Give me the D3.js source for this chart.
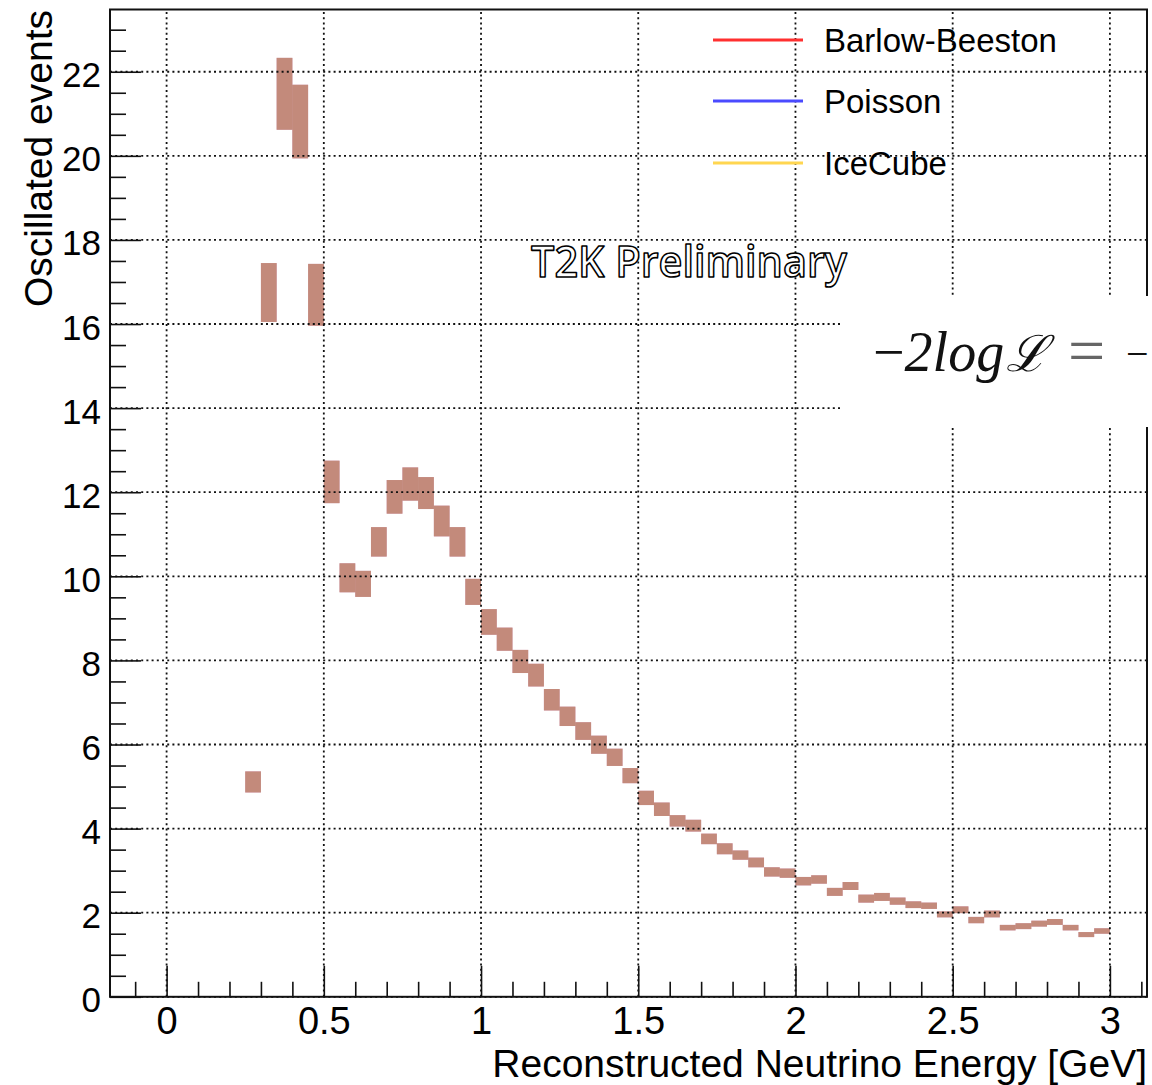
<!DOCTYPE html>
<html>
<head>
<meta charset="utf-8">
<script src="https://cdn.jsdelivr.net/npm/d3@7"></script>
<style>
  html, body { margin: 0; padding: 0; background: #fff; }
  svg { display: block; }
</style>
</head>
<body>
<script>
// Lower edge of each reconstructed-energy bin (GeV); every bin is 0.05 GeV wide
const binLow = [0.25, 0.30, 0.35, 0.40, 0.45, 0.50, 0.55, 0.60, 0.65, 0.70,
                0.75, 0.80, 0.85, 0.90, 0.95, 1.00, 1.05, 1.10, 1.15, 1.20,
                1.25, 1.30, 1.35, 1.40, 1.45, 1.50, 1.55, 1.60, 1.65, 1.70,
                1.75, 1.80, 1.85, 1.90, 1.95, 2.00, 2.05, 2.10, 2.15, 2.20,
                2.25, 2.30, 2.35, 2.40, 2.45, 2.50, 2.55, 2.60, 2.65, 2.70,
                2.75, 2.80, 2.85, 2.90, 2.95];
const binWidth = 0.05;

// Lower and upper edge of the oscillated-event band in each bin
const bandLower = [4.86, 16.05, 20.62, 19.94, 15.96, 11.74, 9.62, 9.51, 10.47, 11.49,
                   11.80, 11.60, 10.95, 10.47, 9.32, 8.61, 8.23, 7.70, 7.38, 6.81,
                   6.44, 6.11, 5.78, 5.49, 5.08, 4.56, 4.30, 4.05, 3.93, 3.63,
                   3.39, 3.26, 3.08, 2.86, 2.83, 2.65, 2.69, 2.40, 2.54, 2.24,
                   2.28, 2.19, 2.11, 2.09, 1.89, 1.99, 1.75, 1.89, 1.58, 1.61,
                   1.67, 1.71, 1.58, 1.42, 1.50];
const bandUpper = [5.36, 17.45, 22.33, 21.69, 17.43, 12.75, 10.31, 10.13, 11.17, 12.29,
                   12.59, 12.36, 11.68, 11.17, 9.94, 9.22, 8.78, 8.25, 7.92, 7.32,
                   6.90, 6.53, 6.21, 5.90, 5.44, 4.90, 4.62, 4.32, 4.21, 3.88,
                   3.65, 3.48, 3.31, 3.08, 3.05, 2.85, 2.89, 2.59, 2.73, 2.43,
                   2.47, 2.36, 2.27, 2.24, 2.03, 2.15, 1.90, 2.05, 1.71, 1.75,
                   1.81, 1.85, 1.71, 1.54, 1.63];

// Likelihood treatments overlaid on the same bins
const seriesNames = ["Barlow-Beeston", "Poisson", "IceCube"];
const seriesColors = ["#ff0000", "#0000ff", "#ffcc00"];
const legendColors = ["#ff3030", "#4a4aff", "#ffd650"];

// Axis tick values and labels
const xMajorTicks = [0, 0.5, 1, 1.5, 2, 2.5, 3];
const xTickLabels = ["0", "0.5", "1", "1.5", "2", "2.5", "3"];
const yMajorTicks = [0, 2, 4, 6, 8, 10, 12, 14, 16, 18, 20, 22];
const yTickLabels = ["0", "2", "4", "6", "8", "10", "12", "14", "16", "18", "20", "22"];

const W = 1152, H = 1085;
const svg = d3.select("body").append("svg")
  .attr("width", W).attr("height", H)
  .attr("font-family", "'Liberation Sans', Arial, sans-serif");

const frame = { left: 110, right: 1147, top: 9.5, bottom: 996.8 };
const x = d3.scaleLinear().domain([-0.18, 3.118]).range([frame.left, frame.right]);
const y = d3.scaleLinear().domain([0, 23.48]).range([frame.bottom, frame.top]);

// Histogram bands: the three series overlap with partial transparency
const bins = binLow.map((lo, i) => ({ lo, hi: lo + binWidth, low: bandLower[i], high: bandUpper[i] }));
seriesNames.forEach((name, s) => {
  svg.append("g").attr("class", "series-" + s)
    .selectAll("rect").data(bins).join("rect")
    .attr("x", d => x(d.lo))
    .attr("width", d => x(d.hi) - x(d.lo))
    .attr("y", d => y(d.high))
    .attr("height", d => y(d.low) - y(d.high))
    .attr("fill", seriesColors[s])
    .attr("fill-opacity", 0.37);
});

// Dotted grid at the major ticks
const grid = svg.append("g").attr("stroke", "#111").attr("stroke-width", 1.8)
  .attr("stroke-dasharray", "2,3.2");
grid.selectAll("line.gx").data(xMajorTicks).join("line").attr("class", "gx")
  .attr("x1", d => x(d)).attr("x2", d => x(d))
  .attr("y1", frame.bottom).attr("y2", frame.top);
grid.selectAll("line.gy").data(yMajorTicks).join("line").attr("class", "gy")
  .attr("x1", frame.left).attr("x2", frame.right)
  .attr("y1", d => y(d)).attr("y2", d => y(d));

// Axes: major ticks with labels, minor ticks without
const xAxis = d3.axisBottom(x).tickValues(xMajorTicks)
  .tickFormat((d, i) => xTickLabels[i]).tickSize(-31).tickPadding(10);
const xMinor = d3.axisBottom(x)
  .tickValues(d3.range(-1, 32).map(k => k / 10).filter(v => Math.abs(v * 2 - Math.round(v * 2)) > 1e-6))
  .tickFormat("").tickSize(-15);
const yAxis = d3.axisLeft(y).tickValues(yMajorTicks)
  .tickFormat((d, i) => yTickLabels[i]).tickSize(-31).tickPadding(9);
const yMinor = d3.axisLeft(y)
  .tickValues(d3.range(1, 47).map(k => k / 2).filter(v => v % 2 !== 0))
  .tickFormat("").tickSize(-16);

function styleAxis(g) {
  g.select(".domain").remove();
  g.selectAll(".tick line").attr("stroke", "#111").attr("stroke-width", 1.6);
}
svg.append("g").attr("transform", `translate(0,${frame.bottom})`).call(xMinor).call(styleAxis);
const gx = svg.append("g").attr("transform", `translate(0,${frame.bottom})`).call(xAxis).call(styleAxis);
gx.selectAll(".tick text").attr("font-size", 38).attr("fill", "#000")
  .attr("font-family", "'Liberation Sans', Arial, sans-serif");
svg.append("g").attr("transform", `translate(${frame.left},0)`).call(yMinor).call(styleAxis);
const gy = svg.append("g").attr("transform", `translate(${frame.left},0)`).call(yAxis).call(styleAxis);
gy.selectAll(".tick text").attr("font-size", 35).attr("fill", "#000").attr("dy", "0.43em")
  .attr("font-family", "'Liberation Sans', Arial, sans-serif");

// Frame
svg.append("rect")
  .attr("x", frame.left).attr("y", frame.top)
  .attr("width", frame.right - frame.left).attr("height", frame.bottom - frame.top)
  .attr("fill", "none").attr("stroke", "#111").attr("stroke-width", 2);

// Axis titles
svg.append("text")
  .attr("x", 1147).attr("y", 1077)
  .attr("text-anchor", "end").attr("font-size", 39).attr("fill", "#000")
  .text("Reconstructed Neutrino Energy [GeV]");
svg.append("text")
  .attr("transform", "translate(52,10) rotate(-90)")
  .attr("text-anchor", "end").attr("font-size", 39).attr("fill", "#000")
  .text("Oscillated events");

// Legend
const legend = svg.append("g");
const legendY = [40, 101, 163];
seriesNames.forEach((name, i) => {
  legend.append("line")
    .attr("x1", 713).attr("x2", 803)
    .attr("y1", legendY[i]).attr("y2", legendY[i])
    .attr("stroke", legendColors[i]).attr("stroke-width", 3);
  legend.append("text")
    .attr("x", 824).attr("y", legendY[i] + 12)
    .attr("font-size", 33).attr("fill", "#000")
    .text(name);
});

// Preliminary label, outlined lettering
svg.append("text")
  .attr("x", 531).attr("y", 277)
  .attr("font-family", "'Open Sans', Lato, sans-serif")
  .attr("font-weight", 600)
  .attr("font-size", 44)
  .attr("textLength", 316).attr("lengthAdjust", "spacingAndGlyphs")
  .attr("fill", "#fff").attr("stroke", "#000").attr("stroke-width", 1.6)
  .attr("stroke-linejoin", "round")
  .text("T2K Preliminary");

// Likelihood formula panel
svg.append("rect")
  .attr("x", 840).attr("y", 296).attr("width", W - 840).attr("height", 131)
  .attr("fill", "#fff");
const formula = svg.append("g")
  .attr("font-family", "'Liberation Serif', 'DejaVu Serif', serif")
  .attr("font-size", 56).attr("fill", "#111");
formula.append("text").attr("x", 873).attr("y", 371)
  .html('\u2212<tspan font-style="italic">2log</tspan>');
formula.append("text").attr("x", 1006).attr("y", 371)
  .attr("font-family", "'DejaVu Serif', serif").attr("font-style", "italic").attr("font-size", 50)
  .text("\u2112");
formula.append("text").attr("x", 1068).attr("y", 373).attr("font-size", 66)
  .attr("fill", "#666").text("=");
formula.append("text").attr("x", 1126).attr("y", 367).attr("font-size", 40)
  .text("\u2212");
</script>
</body>
</html>
